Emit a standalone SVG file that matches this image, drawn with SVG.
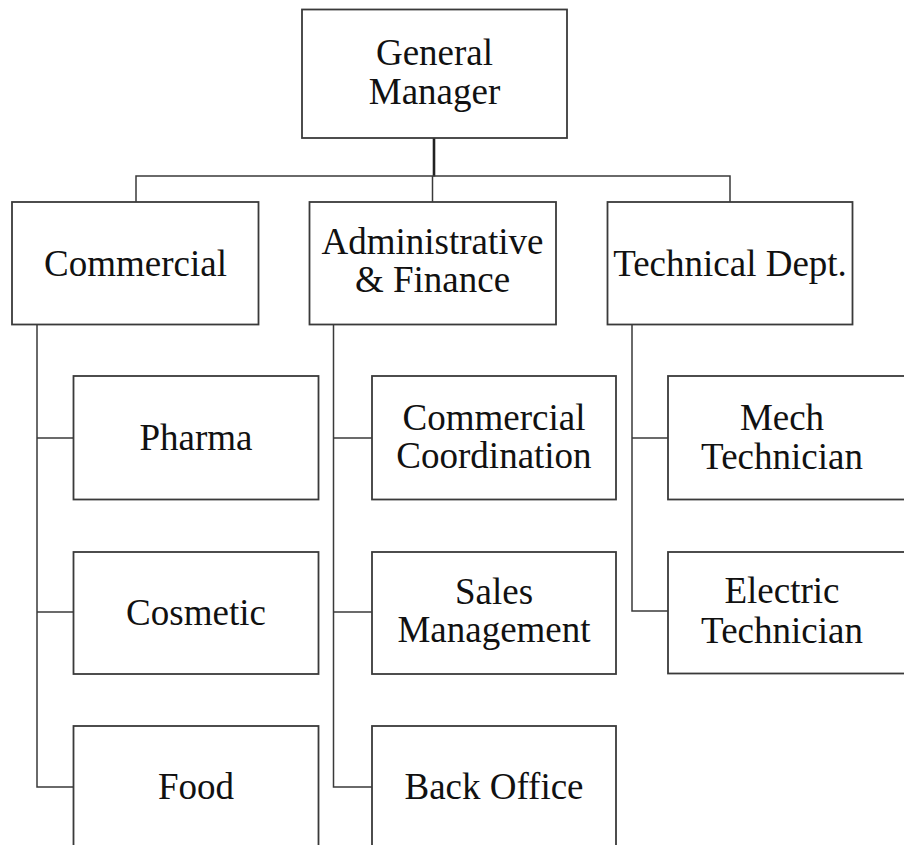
<svg xmlns="http://www.w3.org/2000/svg" width="904" height="845" viewBox="0 0 904 845">
  <style>
    .box { fill: #ffffff; stroke: #3a3a3a; stroke-width: 1.8; }
    .lbl { font-size: 37px; fill: #111111; text-anchor: middle; }
    .wire { fill: none; stroke: #3a3a3a; stroke-width: 1.5; }
    .trunk { fill: none; stroke: #222222; stroke-width: 2.6; }
  </style>
  <rect width="904" height="845" fill="#ffffff"/>

  <!-- connectors -->
  <g id="connectors">
    <line class="trunk" x1="434" y1="138" x2="434" y2="176.5"/>
    <polyline class="wire" points="136,202 136,176 730,176 730,202"/>
    <line class="wire" x1="432.5" y1="176" x2="432.5" y2="202"/>
    <!-- Commercial branches -->
    <polyline class="wire" points="37,324 37,787 73,787"/>
    <line class="wire" x1="37" y1="438" x2="73" y2="438"/>
    <line class="wire" x1="37" y1="612" x2="73" y2="612"/>
    <!-- Administrative branches -->
    <polyline class="wire" points="333.5,324 333.5,787 372,787"/>
    <line class="wire" x1="333.5" y1="438" x2="372" y2="438"/>
    <line class="wire" x1="333.5" y1="612" x2="372" y2="612"/>
    <!-- Technical branches -->
    <polyline class="wire" points="632,324 632,611 668,611"/>
    <line class="wire" x1="632" y1="438" x2="668" y2="438"/>
  </g>

  <!-- top level -->
  <g id="general-manager">
    <rect class="box" x="302" y="9.5" width="265" height="128.5"/>
    <text class="lbl" font-family="Liberation Serif" x="434.5" y="65">General</text>
    <text class="lbl" font-family="Liberation Serif" x="434.5" y="104">Manager</text>
  </g>

  <!-- departments -->
  <g id="commercial">
    <rect class="box" x="12" y="202" width="246.5" height="122.5"/>
    <text class="lbl" font-family="Liberation Serif" x="135.5" y="275.5">Commercial</text>
  </g>
  <g id="admin-finance">
    <rect class="box" x="309.5" y="202" width="246.5" height="122.5"/>
    <text class="lbl" font-family="Liberation Serif" x="432.5" y="254">Administrative</text>
    <text class="lbl" font-family="Liberation Serif" x="432.5" y="292">&amp; Finance</text>
  </g>
  <g id="technical">
    <rect class="box" x="607.5" y="202" width="245" height="122.5"/>
    <text class="lbl" font-family="Liberation Serif" x="730" y="275.5">Technical Dept.</text>
  </g>

  <!-- Commercial units -->
  <g id="pharma">
    <rect class="box" x="73.5" y="376" width="245" height="123.5"/>
    <text class="lbl" font-family="Liberation Serif" x="196" y="450">Pharma</text>
  </g>
  <g id="cosmetic">
    <rect class="box" x="73.5" y="552" width="245" height="122"/>
    <text class="lbl" font-family="Liberation Serif" x="196" y="624.5">Cosmetic</text>
  </g>
  <g id="food">
    <rect class="box" x="73.5" y="726" width="245" height="130"/>
    <text class="lbl" font-family="Liberation Serif" x="196" y="798.5">Food</text>
  </g>

  <!-- Administrative units -->
  <g id="commercial-coordination">
    <rect class="box" x="372" y="376" width="244" height="123.5"/>
    <text class="lbl" font-family="Liberation Serif" x="494" y="429.5">Commercial</text>
    <text class="lbl" font-family="Liberation Serif" x="494" y="468">Coordination</text>
  </g>
  <g id="sales-management">
    <rect class="box" x="372" y="552" width="244" height="122"/>
    <text class="lbl" font-family="Liberation Serif" x="494" y="604">Sales</text>
    <text class="lbl" font-family="Liberation Serif" x="494" y="642">Management</text>
  </g>
  <g id="back-office">
    <rect class="box" x="372" y="726" width="244" height="130"/>
    <text class="lbl" font-family="Liberation Serif" x="494" y="798.5">Back Office</text>
  </g>

  <!-- Technical units -->
  <g id="mech-technician">
    <rect class="box" x="668" y="376" width="245" height="123.5"/>
    <text class="lbl" font-family="Liberation Serif" x="782" y="429.5">Mech</text>
    <text class="lbl" font-family="Liberation Serif" x="782" y="468.5">Technician</text>
  </g>
  <g id="electric-technician">
    <rect class="box" x="668" y="552" width="245" height="121.5"/>
    <text class="lbl" font-family="Liberation Serif" x="782" y="603">Electric</text>
    <text class="lbl" font-family="Liberation Serif" x="782" y="643">Technician</text>
  </g>
</svg>
